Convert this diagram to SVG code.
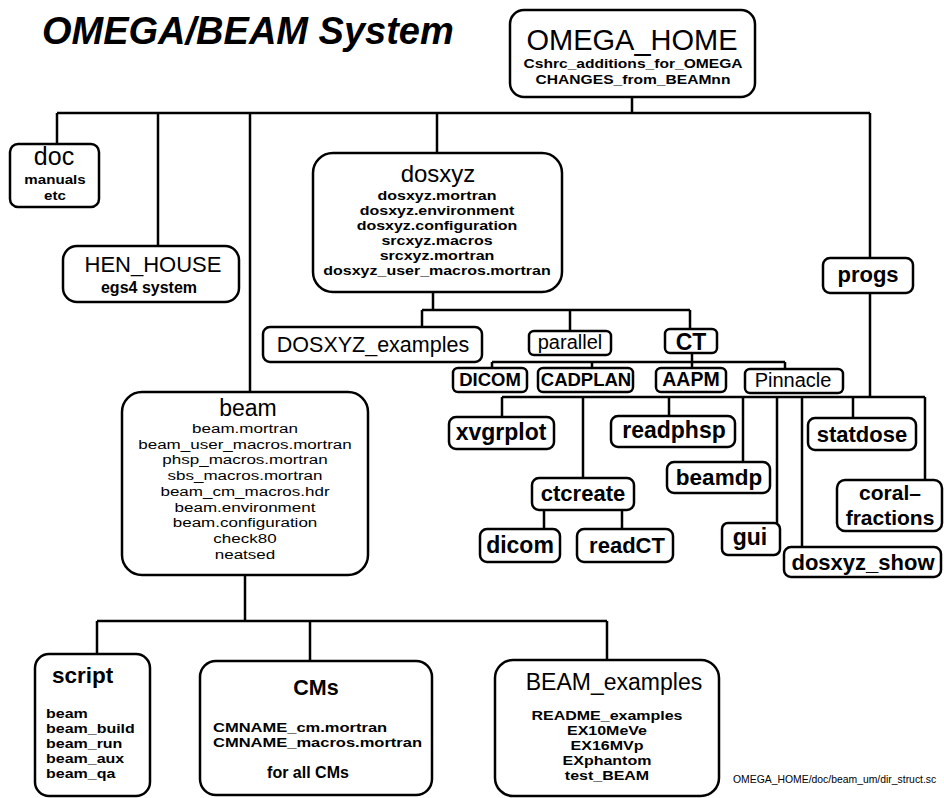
<svg xmlns="http://www.w3.org/2000/svg" width="944" height="798" viewBox="0 0 944 798">
<style>
.bx{fill:#fff;stroke:#000;stroke-width:2.5}
.ln{fill:none;stroke:#000;stroke-width:2.5}
text{font-family:"Liberation Sans",Arial,Helvetica,sans-serif;fill:#000;text-anchor:middle}
.r{font-weight:normal}
.b{font-weight:bold}
.s{text-anchor:start}
.l13{font-size:13px;font-weight:bold}
</style>
<rect width="944" height="798" fill="#fff"/>
<text x="42" y="44" class="s" style="font-size:38px;font-weight:bold;font-style:italic">OMEGA/BEAM System</text>

<g id="connectors">
<path class="ln" d="M57,113 H870 M632,97 V113 M57,113 V144 M158,113 V246 M250,113 V392 M437,113 V153 M870,113 V258 M870,293 V397"/>
<path class="ln" d="M433,292 V310 M422,310 H690 M422,310 V327 M570,310 V331 M690,310 V329"/>
<path class="ln" d="M692,353 V368 M492,362 H785 M492,362 V368 M592,362 V368 M785,362 V369"/>
<path class="ln" d="M502,397 H925 M502,397 V417 M583,397 V478 M669,397 V416 M743,397 V462 M777,397 V523 M802,397 V547 M853,397 V418 M925,397 V480"/>
<path class="ln" d="M544,510 V529 M622,510 V529"/>
<path class="ln" d="M245,575 V621 M97,621 H607 M97,621 V654 M310,621 V661 M607,621 V660"/>
</g>

<g id="omega_home">
<rect class="bx" x="510" y="10" width="245" height="87" rx="14"/>
<text x="632" y="50" class="r" style="font-size:29px">OMEGA_HOME</text>
<g transform="translate(633,0) scale(1.2,1)">
<text x="0" y="68" class="l13">Cshrc_additions_for_OMEGA</text>
<text x="0" y="84" class="l13">CHANGES_from_BEAMnn</text>
</g>
</g>

<g id="doc">
<rect class="bx" x="10" y="144" width="89" height="63" rx="8"/>
<text x="54" y="165" class="r" style="font-size:25px">doc</text>
<g transform="translate(55,0) scale(1.12,1)">
<text x="0" y="184" class="b" style="font-size:13.5px">manuals</text>
<text x="0" y="200" class="b" style="font-size:13.5px">etc</text>
</g>
</g>

<g id="hen_house">
<rect class="bx" x="63" y="246" width="176" height="56" rx="14"/>
<text x="153" y="272" class="r" style="font-size:22px">HEN_HOUSE</text>
<text x="149" y="293" class="b" style="font-size:16px">egs4 system</text>
</g>

<g id="dosxyz">
<rect class="bx" x="313" y="153" width="249" height="139" rx="20"/>
<text x="438" y="182" class="r" style="font-size:24px">dosxyz</text>
<g transform="translate(437,0) scale(1.23,1)">
<text x="0" y="200" class="l13">dosxyz.mortran</text>
<text x="0" y="215" class="l13">dosxyz.environment</text>
<text x="0" y="230" class="l13">dosxyz.configuration</text>
<text x="0" y="245" class="l13">srcxyz.macros</text>
<text x="0" y="260" class="l13">srcxyz.mortran</text>
<text x="0" y="275" class="l13">dosxyz_user_macros.mortran</text>
</g>
</g>

<g id="dosxyz_examples">
<rect class="bx" x="263" y="327" width="219" height="35" rx="7"/>
<text x="373" y="352" class="r" style="font-size:21.5px">DOSXYZ_examples</text>
</g>

<g id="parallel">
<rect class="bx" x="529" y="331" width="82" height="24" rx="5"/>
<text x="570" y="349" class="r" style="font-size:20px">parallel</text>
</g>

<g id="ct">
<rect class="bx" x="665" y="329" width="52" height="24" rx="5"/>
<text x="691" y="350" class="b" style="font-size:23px">CT</text>
</g>

<g id="dicom_upper">
<rect class="bx" x="453" y="368" width="74" height="24" rx="5"/>
<text x="490" y="386" class="b" style="font-size:18.5px">DICOM</text>
</g>

<g id="cadplan">
<rect class="bx" x="538" y="368" width="95" height="24" rx="5"/>
<text x="586" y="386" class="b" style="font-size:18.5px">CADPLAN</text>
</g>

<g id="aapm">
<rect class="bx" x="656" y="368" width="70" height="24" rx="5"/>
<text x="691" y="386" class="b" style="font-size:19.5px">AAPM</text>
</g>

<g id="pinnacle">
<rect class="bx" x="745" y="369" width="98" height="24" rx="5"/>
<text x="793" y="387" class="r" style="font-size:20px">Pinnacle</text>
</g>

<g id="progs">
<rect class="bx" x="823" y="258" width="90" height="35" rx="7"/>
<text x="868" y="282" class="b" style="font-size:22px">progs</text>
</g>

<g id="xvgrplot">
<rect class="bx" x="449" y="417" width="105" height="32" rx="7"/>
<text x="501" y="440" class="b" style="font-size:23px">xvgrplot</text>
</g>

<g id="readphsp">
<rect class="bx" x="611" y="416" width="124" height="31" rx="7"/>
<text x="674" y="438" class="b" style="font-size:23px">readphsp</text>
</g>

<g id="statdose">
<rect class="bx" x="808" y="418" width="108" height="32" rx="7"/>
<text x="862" y="442" class="b" style="font-size:22px">statdose</text>
</g>

<g id="beamdp">
<rect class="bx" x="667" y="462" width="103" height="31" rx="7"/>
<text x="719" y="485" class="b" style="font-size:22.5px">beamdp</text>
</g>

<g id="ctcreate">
<rect class="bx" x="532" y="478" width="102" height="32" rx="7"/>
<text x="583" y="501" class="b" style="font-size:22px">ctcreate</text>
</g>

<g id="dicom">
<rect class="bx" x="480" y="529" width="80" height="33" rx="7"/>
<text x="520" y="553" class="b" style="font-size:23px">dicom</text>
</g>

<g id="readct">
<rect class="bx" x="577" y="529" width="96" height="33" rx="7"/>
<text x="627" y="553" class="b" style="font-size:22px">readCT</text>
</g>

<g id="gui">
<rect class="bx" x="722" y="523" width="58" height="32" rx="6"/>
<text x="750" y="545" class="b" style="font-size:23px">gui</text>
</g>

<g id="dosxyz_show">
<rect class="bx" x="784" y="547" width="157" height="30" rx="7"/>
<text x="863" y="570" class="b" style="font-size:22px">dosxyz_show</text>
</g>

<g id="coral_fractions">
<rect class="bx" x="837" y="480" width="105" height="51" rx="8"/>
<text x="890" y="500" class="b" style="font-size:21px">coral–</text>
<text x="890" y="525" class="b" style="font-size:21px">fractions</text>
</g>

<g id="beam">
<rect class="bx" x="122" y="392" width="246" height="183" rx="20"/>
<text x="248" y="416" class="r" style="font-size:23px">beam</text>
<g transform="translate(245,0) scale(1.26,1)" style="font-size:13.5px">
<text x="0" y="433">beam.mortran</text>
<text x="0" y="448.75">beam_user_macros.mortran</text>
<text x="0" y="464.5">phsp_macros.mortran</text>
<text x="0" y="480.25">sbs_macros.mortran</text>
<text x="0" y="496">beam_cm_macros.hdr</text>
<text x="0" y="511.75">beam.environment</text>
<text x="0" y="527.5">beam.configuration</text>
<text x="0" y="543.25">check80</text>
<text x="0" y="559">neatsed</text>
</g>
</g>

<g id="script">
<rect class="bx" x="35" y="654" width="115" height="142" rx="14"/>
<text x="52" y="683" class="b s" style="font-size:22.5px">script</text>
<g transform="translate(46,0) scale(1.23,1)">
<text x="0" y="718" class="l13 s">beam</text>
<text x="0" y="733" class="l13 s">beam_build</text>
<text x="0" y="748" class="l13 s">beam_run</text>
<text x="0" y="763" class="l13 s">beam_aux</text>
<text x="0" y="778" class="l13 s">beam_qa</text>
</g>
</g>

<g id="cms">
<rect class="bx" x="200" y="661" width="232" height="134" rx="16"/>
<text x="316" y="695" class="b" style="font-size:21.5px">CMs</text>
<g transform="translate(213,0) scale(1.25,1)">
<text x="0" y="732" class="b s" style="font-size:13.2px">CMNAME_cm.mortran</text>
<text x="0" y="747" class="b s" style="font-size:13.2px">CMNAME_macros.mortran</text>
</g>
<text x="308" y="778" class="b" style="font-size:16px">for all CMs</text>
</g>

<g id="beam_examples">
<rect class="bx" x="495" y="660" width="224" height="136" rx="18"/>
<text x="614" y="690" class="r" style="font-size:23px">BEAM_examples</text>
<g transform="translate(607,0) scale(1.23,1)">
<text x="0" y="720" class="l13">README_examples</text>
<text x="0" y="735" class="l13">EX10MeVe</text>
<text x="0" y="750" class="l13">EX16MVp</text>
<text x="0" y="765" class="l13">EXphantom</text>
<text x="0" y="780" class="l13">test_BEAM</text>
</g>
</g>

<text x="733" y="783" class="s" style="font-size:10.4px">OMEGA_HOME/doc/beam_um/dir_struct.sc</text>
</svg>
